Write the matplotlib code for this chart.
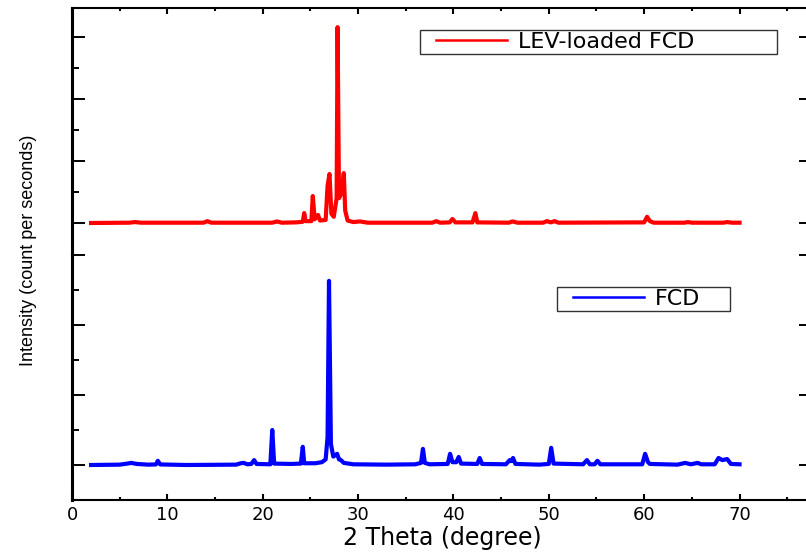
import matplotlib
matplotlib.use("Agg")
import matplotlib.pyplot as plt
from matplotlib.lines import Line2D
from matplotlib.legend_handler import HandlerLine2D

# FCD (bottom layer)
two_theta_fcd = [2.0, 5.0, 5.8, 6.2, 6.8, 8.0, 8.8, 9.0, 9.25, 12.0,
                 17.2, 17.7, 18.0, 18.4, 18.8, 19.1, 19.35, 20.8, 21.0, 21.2,
                 23.0, 24.0, 24.2, 24.35, 25.5, 26.2, 26.6, 26.8, 26.95, 27.15,
                 27.4, 27.8, 28.0, 28.2, 28.5, 29.5, 33.0, 36.0, 36.6, 36.8,
                 37.0, 37.5, 39.4, 39.65, 39.9, 40.3, 40.55, 40.8, 42.5, 42.75,
                 43.0, 45.5, 45.9, 46.05, 46.25, 46.5, 49.0, 50.0, 50.25, 50.5,
                 53.6, 54.0, 54.3, 54.8, 55.1, 55.4, 59.8, 60.1, 60.4, 60.6,
                 63.5, 64.3, 64.9, 65.6, 66.0, 67.4, 67.8, 68.2, 68.7, 69.1, 70.0]
counts_fcd = [0, 5, 20, 30, 15, 5, 8, 60, 8, 0,
              5, 25, 30, 10, 15, 70, 15, 10, 500, 20,
              15, 20, 260, 25, 25, 40, 80, 400, 2630, 300,
              120, 160, 80, 70, 30, 10, 5, 10, 30, 230,
              30, 10, 15, 160, 40, 40, 115, 20, 15, 100,
              15, 10, 70, 55, 100, 15, 5, 15, 245, 20,
              10, 70, 10, 10, 60, 10, 10, 160, 40, 15,
              5, 30, 10, 30, 10, 10, 100, 70, 85, 15, 10]

# LEV-loaded FCD (top layer)
two_theta_lev = [2.0, 6.0, 6.6, 7.2, 13.8, 14.2, 14.6, 21.0, 21.5, 22.0,
                 23.5, 24.2, 24.35, 24.5, 25.1, 25.25, 25.45, 25.8, 26.0, 26.6,
                 26.8, 27.0, 27.2, 27.45, 27.75, 27.85, 28.0, 28.3, 28.5, 28.65,
                 28.9, 29.5, 30.2, 31.0, 37.8, 38.2, 38.6, 39.6, 39.9, 40.2,
                 42.0, 42.3, 42.5, 45.8, 46.2, 46.7, 49.4, 49.8, 50.2, 50.6,
                 51.0, 60.0, 60.3, 60.6, 61.0, 64.2, 64.6, 65.0, 68.3, 68.7,
                 69.2, 70.0]
counts_lev = [0, 5, 15, 5, 5, 30, 5, 5, 25, 5,
              10, 20, 160, 30, 30, 435, 60, 130, 40, 50,
              600, 790, 150, 100, 400, 3160, 400, 500, 805, 200,
              40, 15, 25, 5, 5, 30, 5, 10, 65, 10,
              10, 160, 10, 5, 25, 5, 5, 30, 10, 30,
              5, 10, 100, 30, 5, 5, 15, 5, 5, 15,
              5, 5]

x_major = [0, 10, 20, 30, 40, 50, 60, 70]
x_minor = [5, 15, 25, 35, 45, 55, 65, 75]
y_major = [0, 1000, 2000, 3000]
y_minor = [500, 1500, 2500]

W, H = 806, 554
fig = plt.figure(figsize=(W / 100, H / 100), dpi=100)
ax_bot = fig.add_axes([72 / W, 54 / H, 740 / W, 246 / H])
ax_top = fig.add_axes([72 / W, 300 / H, 740 / W, 246 / H])

ax_bot.plot(two_theta_fcd, counts_fcd, color="#0000ff", lw=3.0, solid_joinstyle="round")
ax_top.plot(two_theta_lev, counts_lev, color="#ff0000", lw=3.0, solid_joinstyle="round")

ax_bot.set_ylim(-500, 3014)
ax_top.set_ylim(-500, 3468)
for ax in (ax_bot, ax_top):
    ax.set_xlim(0, 77.6)
    ax.set_facecolor("none")
    ax.set_xticks(x_major)
    ax.set_xticks(x_minor, minor=True)
    ax.set_yticks(y_major)
    ax.set_yticks(y_minor, minor=True)
    ax.tick_params(axis="y", which="major", direction="in", length=9.5, width=1.4,
                   left=True, right=True, labelleft=False)
    ax.tick_params(axis="y", which="minor", direction="in", length=5, width=1.4,
                   left=True, right=False)
    ax.spines["left"].set_linewidth(2.2)
    for s in ("top", "bottom", "right"):
        ax.spines[s].set_linewidth(1.5)

ax_bot.spines["top"].set_visible(False)
ax_top.spines["bottom"].set_visible(False)
ax_bot.tick_params(axis="x", which="major", direction="in", length=4.5, width=1.5,
                   top=False, labelsize=13, pad=4)
ax_bot.tick_params(axis="x", which="minor", direction="in", length=2.2, width=1.5, top=False)
ax_top.tick_params(axis="x", which="major", direction="in", length=4.5, width=1.5,
                   bottom=False, top=True, labelbottom=False)
ax_top.tick_params(axis="x", which="minor", direction="in", length=2.2, width=1.5,
                   bottom=False, top=True)

ax_bot.set_xlabel("2 Theta (degree)", fontsize=17, labelpad=2)

fig.text(29 / W, 1 - 250 / H, "Intensity (count per seconds)", rotation=90,
         ha="center", va="center", fontsize=13, family=["Liberation Sans", "DejaVu Sans"])

# legend line inset from the box edge, as in the original
inset = {Line2D: HandlerLine2D(numpoints=2, marker_pad=0.6)}
h_lev = Line2D([], [], color="#ff0000", lw=1.8)
h_fcd = Line2D([], [], color="#0000ff", lw=1.8)
leg1 = ax_top.legend([h_lev], ["LEV-loaded FCD"], loc="upper left",
                     bbox_to_anchor=(420 / W, 1 - 30 / H, 357 / W, 0),
                     bbox_transform=fig.transFigure, mode="expand", handler_map=inset,
                     fancybox=False, edgecolor="#333333", fontsize=16, handlelength=4.4,
                     handletextpad=-0.1, borderpad=0.1, borderaxespad=0, framealpha=1)
leg1.get_frame().set_linewidth(1.0)
leg2 = ax_bot.legend([h_fcd], ["FCD"], loc="upper left",
                     bbox_to_anchor=(557 / W, 1 - 287 / H, 173 / W, 0),
                     bbox_transform=fig.transFigure, mode="expand", handler_map=inset,
                     fancybox=False, edgecolor="#333333", fontsize=16, handlelength=4.4,
                     handletextpad=-0.1, borderpad=0.1, borderaxespad=0, framealpha=1)
leg2.get_frame().set_linewidth(1.0)

fig.savefig("out.png", dpi=100)
